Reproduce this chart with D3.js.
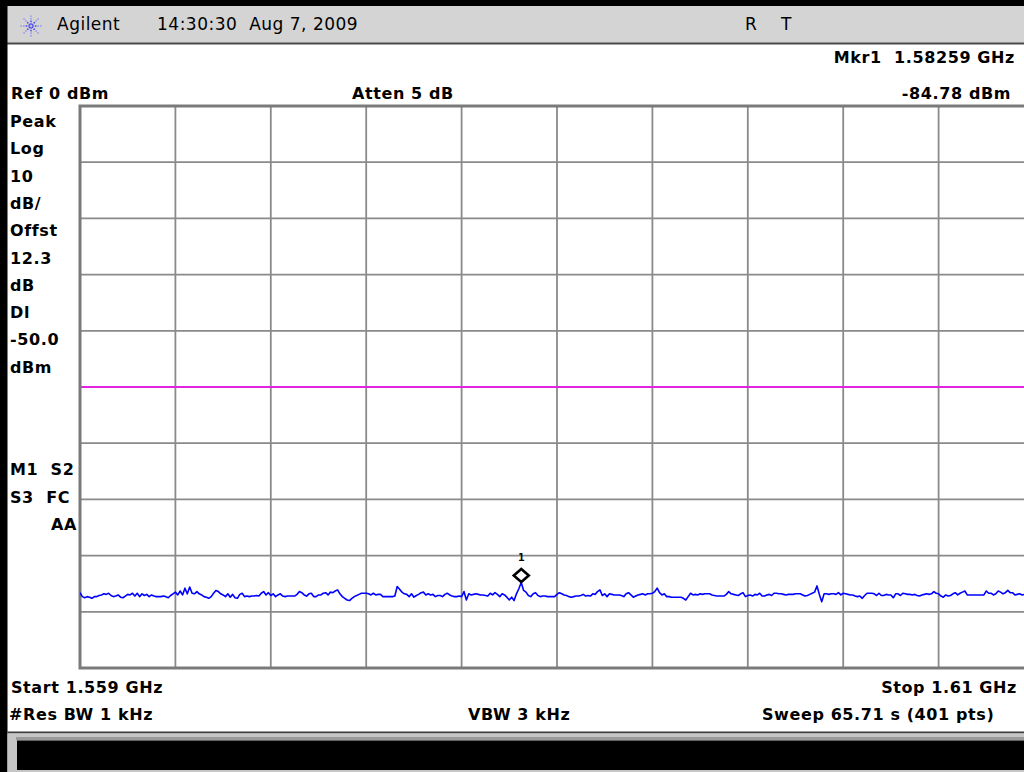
<!DOCTYPE html>
<html>
<head>
<meta charset="utf-8">
<script src="https://cdn.jsdelivr.net/npm/d3@7"></script>
<style>
  html, body { margin: 0; padding: 0; background: #ffffff; }
  svg { display: block; }
  .lbl { font-family: "DejaVu Sans", sans-serif; font-weight: bold; font-size: 16px; letter-spacing: 0.6px; fill: #000; }
  .hdr { font-family: "DejaVu Sans", sans-serif; font-size: 17px; letter-spacing: 0.5px; fill: #000; }
</style>
</head>
<body>
<svg id="chart" width="1024" height="772"></svg>
<script>
// Sweep settings
const startGHz = 1.559;
const stopGHz = 1.61;
const refLevelDbm = 0;
const dbPerDiv = 10;
const numDivs = 10;
const displayLineDbm = -50.0;
const markerFreqGHz = 1.58259;
const markerDbm = -84.78;
const markerIndex = 185;

// Left annotation column
const sideLabels = ["Peak", "Log", "10", "dB/", "Offst", "12.3", "dB", "Dl", "-50.0", "dBm"];
const statusLabels = ["M1  S2", "S3  FC"];

// Measured trace, 401 sweep points (dBm)
const traceDbm = [
  -86.6,-87.3,-87.5,-87.3,-87.4,-87.6,-87.3,-87.3,-87.1,-87.0,
  -86.8,-86.9,-86.7,-87.1,-87.3,-87.2,-87.0,-87.4,-87.5,-87.2,
  -86.9,-87.0,-86.7,-87.2,-86.7,-87.3,-86.8,-87.1,-86.9,-87.3,
  -87.0,-87.2,-87.3,-87.3,-87.3,-87.2,-87.3,-87.5,-87.1,-86.8,
  -86.5,-87.0,-86.3,-87.0,-85.8,-86.8,-85.6,-86.7,-86.8,-86.4,
  -86.8,-87.0,-87.3,-87.4,-87.6,-87.3,-86.7,-86.2,-86.4,-86.8,
  -87.0,-87.3,-86.8,-87.4,-86.9,-87.5,-87.6,-86.9,-86.7,-87.3,
  -87.2,-87.3,-87.2,-87.2,-87.1,-87.2,-86.7,-86.4,-87.0,-86.6,
  -87.1,-86.8,-87.3,-87.0,-86.8,-87.2,-87.3,-87.2,-87.2,-87.2,
  -87.2,-86.9,-86.4,-86.6,-87.0,-87.2,-86.8,-86.7,-87.3,-87.3,
  -87.0,-87.0,-86.7,-86.6,-87.0,-86.5,-86.6,-86.3,-86.1,-86.8,
  -87.3,-87.6,-87.9,-88.0,-87.6,-87.3,-87.1,-86.9,-86.7,-86.7,
  -86.7,-86.8,-87.0,-86.7,-87.0,-86.9,-86.9,-87.3,-87.3,-87.3,
  -87.3,-87.3,-87.2,-85.5,-86.0,-86.5,-86.8,-86.9,-87.3,-86.8,
  -87.4,-87.1,-86.9,-86.6,-86.5,-87.0,-86.8,-87.0,-86.9,-87.3,
  -87.1,-87.1,-87.3,-86.9,-86.7,-87.0,-87.2,-87.3,-87.3,-87.2,
  -87.3,-86.4,-87.9,-86.8,-87.0,-86.9,-86.8,-86.9,-87.0,-87.0,
  -87.1,-87.2,-86.7,-87.0,-86.6,-86.9,-87.3,-86.8,-87.0,-87.4,
  -87.9,-87.4,-88.0,-86.8,-85.9,-84.78,-86.2,-86.5,-87.1,-87.3,
  -86.8,-86.6,-87.1,-87.3,-87.2,-87.2,-87.3,-87.3,-87.3,-87.3,
  -86.9,-86.6,-86.8,-87.0,-87.1,-87.3,-87.4,-87.3,-87.2,-87.2,
  -87.1,-86.9,-87.2,-87.1,-87.2,-86.8,-86.9,-86.4,-86.1,-87.1,
  -86.8,-87.3,-86.8,-86.9,-87.0,-87.0,-87.0,-87.1,-87.3,-86.8,
  -86.6,-87.0,-87.4,-87.2,-87.0,-86.9,-86.8,-87.0,-86.8,-86.8,
  -86.7,-86.4,-85.8,-86.6,-87.0,-86.8,-87.3,-87.3,-87.4,-87.4,
  -87.4,-87.4,-87.4,-87.6,-87.9,-87.3,-86.7,-87.0,-86.9,-87.0,
  -86.8,-86.9,-86.8,-86.8,-86.8,-87.0,-87.1,-87.2,-87.2,-87.2,
  -87.2,-86.9,-86.4,-86.8,-86.9,-87.0,-87.1,-86.8,-86.6,-87.3,
  -87.1,-87.0,-87.2,-86.9,-87.0,-86.7,-87.2,-87.2,-87.0,-86.9,
  -87.1,-86.7,-86.7,-86.8,-86.8,-86.9,-87.0,-86.9,-86.9,-86.9,
  -86.8,-86.8,-86.8,-87.0,-87.2,-87.1,-86.9,-86.7,-86.5,-85.4,
  -86.9,-88.2,-86.8,-86.8,-86.9,-86.8,-86.8,-86.9,-86.6,-87.0,
  -86.7,-86.8,-86.9,-87.0,-87.0,-87.2,-87.3,-87.2,-87.6,-87.1,
  -86.7,-86.7,-86.7,-86.8,-87.1,-86.7,-87.1,-87.1,-86.9,-87.0,
  -87.0,-87.5,-86.8,-86.8,-87.1,-86.7,-86.8,-86.9,-86.9,-87.0,
  -86.9,-87.1,-87.2,-87.0,-86.9,-86.8,-86.9,-86.8,-86.4,-86.7,
  -86.8,-87.2,-87.4,-87.0,-87.2,-87.1,-86.8,-86.6,-87.0,-86.7,
  -86.5,-86.3,-87.0,-87.0,-87.0,-87.0,-87.0,-87.0,-87.0,-87.0,
  -86.3,-86.7,-86.7,-87.0,-86.8,-86.3,-86.5,-86.8,-86.6,-86.2,
  -86.6,-86.6,-87.0,-86.9,-86.8,-87.0,-86.9,-87.1,-86.8,-87.0,
  -87.2
];

const svg = d3.select("#chart");

// Plot area geometry
const plot = { left: 80, top: 106, right: 1034, bottom: 668 };

const x = d3.scaleLinear().domain([startGHz, stopGHz]).range([plot.left, plot.right]);
const y = d3.scaleLinear()
  .domain([refLevelDbm, refLevelDbm - dbPerDiv * numDivs])
  .range([plot.top, plot.bottom]);

const freqAt = i => startGHz + (stopGHz - startGHz) * i / (traceDbm.length - 1);

// ---- instrument frame ----
svg.append("rect").attr("x", 0).attr("y", 0).attr("width", 1024).attr("height", 772).attr("fill", "#ffffff");
// title bar
svg.append("rect").attr("x", 0).attr("y", 0).attr("width", 1024).attr("height", 44).attr("fill", "#d4d4d4");
svg.append("rect").attr("x", 0).attr("y", 0).attr("width", 1024).attr("height", 6).attr("fill", "#000");
svg.append("rect").attr("x", 0).attr("y", 42.5).attr("width", 1024).attr("height", 2).attr("fill", "#4a4a4a");
// left bezel
svg.append("rect").attr("x", 0).attr("y", 0).attr("width", 7.5).attr("height", 772).attr("fill", "#000");
// bottom status bar
svg.append("rect").attr("x", 7.5).attr("y", 731.5).attr("width", 1020).attr("height", 2).attr("fill", "#3c3c3c");
svg.append("rect").attr("x", 7.5).attr("y", 733.5).attr("width", 1020).attr("height", 40).attr("fill", "#c6c6c6");
svg.append("rect").attr("x", 16).attr("y", 737).attr("width", 1020).attr("height", 3).attr("fill", "#9a9a9a");
svg.append("rect").attr("x", 17).attr("y", 740.5).attr("width", 1020).attr("height", 29.5).attr("fill", "#000");

// Agilent spark logo
const logo = svg.append("g").attr("transform", "translate(31,26)");
d3.range(8).forEach(k => {
  const a = k * Math.PI / 4;
  d3.range(2, 11, 2.6).forEach(r => {
    logo.append("rect")
      .attr("x", Math.cos(a) * r - 0.8).attr("y", Math.sin(a) * r - 0.8)
      .attr("width", 1.6).attr("height", 1.6)
      .attr("fill", r < 6 ? "#5050e8" : "#9a9af0");
  });
});

svg.append("text").attr("class", "hdr").attr("x", 57).attr("y", 30).text("Agilent");
svg.append("text").attr("class", "hdr").attr("x", 157).attr("y", 30).attr("xml:space", "preserve").text("14:30:30  Aug 7, 2009");
svg.append("text").attr("class", "hdr").attr("x", 745).attr("y", 30).attr("xml:space", "preserve").text("R    T");

// ---- header annotations ----
svg.append("text").attr("class", "lbl").attr("x", 1015).attr("y", 63).attr("text-anchor", "end")
  .attr("xml:space", "preserve").text(`Mkr1  ${markerFreqGHz.toFixed(5)} GHz`);
svg.append("text").attr("class", "lbl").attr("x", 11).attr("y", 99).text(`Ref ${refLevelDbm} dBm`);
svg.append("text").attr("class", "lbl").attr("x", 352).attr("y", 99).text("Atten 5 dB");
svg.append("text").attr("class", "lbl").attr("x", 1011).attr("y", 99).attr("text-anchor", "end")
  .text(`${markerDbm.toFixed(2)} dBm`);

// left column
svg.append("g").selectAll("text").data(sideLabels).join("text")
  .attr("class", "lbl").attr("x", 10)
  .attr("y", (d, i) => 127 + i * 27.3)
  .text(d => d);
svg.append("g").selectAll("text").data(statusLabels).join("text")
  .attr("class", "lbl").attr("x", 10).attr("xml:space", "preserve")
  .attr("y", (d, i) => 475 + i * 27.5)
  .text(d => d);
svg.append("text").attr("class", "lbl").attr("x", 77).attr("y", 530).attr("text-anchor", "end").text("AA");

// ---- graticule ----
const clip = svg.append("defs").append("clipPath").attr("id", "plotclip");
clip.append("rect").attr("x", plot.left).attr("y", plot.top - 2).attr("width", plot.right - plot.left).attr("height", plot.bottom - plot.top + 4);

const grid = svg.append("g");
const xTicks = d3.range(numDivs + 1).map(i => startGHz + (stopGHz - startGHz) * i / numDivs);
const yTicks = d3.range(numDivs + 1).map(i => refLevelDbm - i * dbPerDiv);

grid.selectAll("line.v").data(xTicks).join("line")
  .attr("class", "v")
  .attr("x1", d => x(d)).attr("x2", d => x(d))
  .attr("y1", plot.top).attr("y2", plot.bottom)
  .attr("stroke", "#8a8a8a").attr("stroke-width", 1.8);
grid.selectAll("line.h").data(yTicks).join("line")
  .attr("class", "h")
  .attr("x1", plot.left).attr("x2", plot.right)
  .attr("y1", d => y(d)).attr("y2", d => y(d))
  .attr("stroke", "#8a8a8a").attr("stroke-width", 1.8);
// outer border (heavier)
grid.append("rect")
  .attr("x", plot.left).attr("y", plot.top)
  .attr("width", plot.right - plot.left).attr("height", plot.bottom - plot.top)
  .attr("fill", "none").attr("stroke", "#7a7a7a").attr("stroke-width", 3);

// display line
svg.append("line")
  .attr("x1", plot.left + 1.5).attr("x2", plot.right)
  .attr("y1", y(displayLineDbm)).attr("y2", y(displayLineDbm))
  .attr("stroke", "#ff00ff").attr("stroke-width", 1.6);

// ---- trace ----
const line = d3.line()
  .x((d, i) => x(freqAt(i)))
  .y(d => y(d));
svg.append("path")
  .datum(traceDbm)
  .attr("clip-path", "url(#plotclip)")
  .attr("d", line)
  .attr("fill", "none")
  .attr("stroke", "#0000ff")
  .attr("stroke-width", 1.6)
  .attr("stroke-linejoin", "round");

// ---- marker 1 ----
const mx = x(markerFreqGHz);
const my = y(traceDbm[markerIndex]);
svg.append("path")
  .attr("d", `M${mx},${my - 0.5} L${mx + 7.5},${my - 7} L${mx},${my - 13.5} L${mx - 7.5},${my - 7} Z`)
  .attr("fill", "#ffffff").attr("stroke", "#000").attr("stroke-width", 2.6);
svg.append("text")
  .attr("x", mx).attr("y", my - 21)
  .attr("text-anchor", "middle")
  .attr("font-family", "DejaVu Sans Mono, monospace").attr("font-size", 11).attr("font-weight", "bold")
  .attr("fill", "#000")
  .text("1");

// ---- footer annotations ----
svg.append("text").attr("class", "lbl").attr("x", 11).attr("y", 693).text(`Start ${startGHz} GHz`);
svg.append("text").attr("class", "lbl").attr("x", 1017).attr("y", 693).attr("text-anchor", "end").text(`Stop ${stopGHz} GHz`);
svg.append("text").attr("class", "lbl").attr("x", 9).attr("y", 720).text("#Res BW 1 kHz");
svg.append("text").attr("class", "lbl").attr("x", 468).attr("y", 720).text("VBW 3 kHz");
svg.append("text").attr("class", "lbl").attr("x", 762).attr("y", 720).text(`Sweep 65.71 s (${traceDbm.length} pts)`);
</script>
</body>
</html>
